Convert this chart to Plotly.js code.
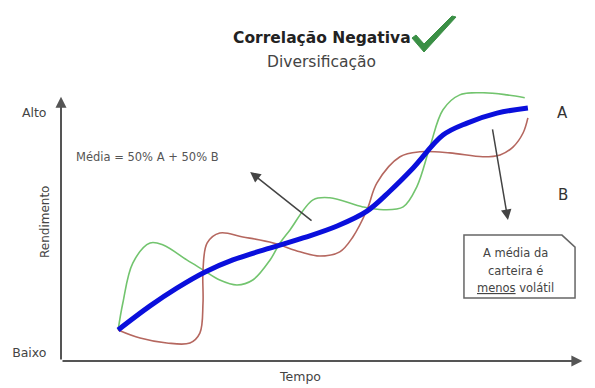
<!DOCTYPE html>
<html>
<head>
<meta charset="utf-8">
<script src="https://cdn.plot.ly/plotly-3.0.1.min.js"></script>
<style>html,body{margin:0;padding:0;background:#fff;}#chart{width:595px;height:388px;}</style>
</head>
<body>
<div id="chart"></div>
<script>
// Série A (verde)
const tempoA = [1.09, 1.18, 1.37, 1.70, 1.95, 2.40, 2.71, 3.03, 3.36, 3.66, 3.99, 4.18, 4.37, 4.81, 5.13, 5.76, 6.15, 6.53, 6.79, 7.04, 7.29, 7.61, 8.05, 8.51, 8.85];
const rendA  = [1.19, 2.22, 3.75, 4.52, 4.44, 3.87, 3.49, 3.10, 2.91, 3.10, 3.87, 4.52, 5.02, 6.17, 6.25, 5.90, 5.79, 5.90, 6.67, 8.20, 9.62, 10.19, 10.27, 10.19, 10.08];
// Série B (vermelha)
const tempoB = [1.09, 1.51, 2.02, 2.46, 2.65, 2.71, 2.71, 2.79, 3.03, 3.47, 4.05, 4.56, 4.94, 5.32, 5.57, 5.84, 6.03, 6.47, 6.85, 7.42, 8.05, 8.38, 8.63, 8.82, 8.91];
const rendB  = [1.19, 0.88, 0.69, 0.69, 1.07, 2.22, 3.49, 4.52, 4.90, 4.75, 4.52, 4.18, 4.02, 4.18, 4.75, 5.79, 6.82, 7.82, 8.01, 7.97, 7.82, 7.89, 8.20, 8.74, 9.31];
// Média = 50% A + 50% B (azul)
const tempoM = [1.09, 1.70, 2.21, 2.75, 3.28, 3.93, 4.62, 5.27, 5.84, 6.28, 6.72, 7.29, 7.75, 8.32, 8.91];
const rendM  = [1.19, 2.11, 2.79, 3.41, 3.87, 4.29, 4.71, 5.17, 5.74, 6.51, 7.39, 8.65, 9.11, 9.49, 9.69];
// Rótulos do eixo Y
const yTickVals = [0.31, 9.5];
const yTickText = ['Baixo', 'Alto'];

const FONT = 'DejaVu Sans, sans-serif';

const traces = [
  {x: tempoA, y: rendA, mode: 'lines', name: 'A', line: {color: '#72c46e', width: 1.6, shape: 'spline', smoothing: 1}},
  {x: tempoB, y: rendB, mode: 'lines', name: 'B', line: {color: '#b5675f', width: 1.6, shape: 'spline', smoothing: 1}},
  {x: tempoM, y: rendM, mode: 'lines', name: 'Média', line: {color: '#0a0fdc', width: 5, shape: 'spline', smoothing: 1}}
];

const pxX = v => (v - 61) / 524;     // paper coords helper (title area)
const pxY = v => (361 - v) / 269;
const dY = v => (361 - v) / 26.12;   // data y helper for text placement

function txt(xp, yp, text, size, color, extra) {
  return Object.assign({x: pxX(xp), y: pxY(yp), xref: 'paper', yref: 'paper', xanchor: 'center', yanchor: 'middle',
    text: text, showarrow: false, font: {size: size, color: color, family: FONT}}, extra || {});
}

const layout = {
  width: 595, height: 388,
  margin: {l: 61, r: 10, t: 92, b: 27},
  paper_bgcolor: '#fff', plot_bgcolor: '#fff',
  showlegend: false,
  font: {family: FONT, color: '#444'},
  xaxis: {range: [0, 10], showgrid: false, zeroline: false, showline: false, showticklabels: false, ticks: '', fixedrange: true},
  yaxis: {range: [0, 10.3], showgrid: false, zeroline: false, showline: false,
          tickvals: yTickVals, ticktext: yTickText, ticks: 'outside', ticklen: 11, tickcolor: 'rgba(0,0,0,0)',
          tickfont: {size: 12.5, color: '#444', family: FONT}, fixedrange: true},
  shapes: [
    {type: 'path', xref: 'x', yref: 'y',
     path: 'M7.69,2.41 L7.69,4.82 L9.56,4.82 L9.81,4.36 L9.81,2.41 Z',
     line: {color: '#666', width: 1.5}, fillcolor: '#fff'},
    {type: 'path', xref: 'paper', yref: 'paper',
     path: 'M' + pxX(412) + ',' + pxY(38) + ' L' + pxX(424) + ',' + pxY(52) + ' L' + pxX(456) + ',' + pxY(17) +
           ' L' + pxX(452) + ',' + pxY(16) + ' L' + pxX(424) + ',' + pxY(44) + ' L' + pxX(416) + ',' + pxY(35) + ' Z',
     line: {color: '#3a8f45', width: 1}, fillcolor: '#3a8f45'}
  ],
  annotations: [
    // eixos com setas
    {x: 9.95, y: 0, ax: 0, ay: 0, xref: 'x', yref: 'y', axref: 'x', ayref: 'y', text: '', showarrow: true,
     arrowhead: 2, arrowsize: 1.1, arrowwidth: 2, arrowcolor: '#555'},
    {x: 0, y: 10.12, ax: 0, ay: 0, xref: 'x', yref: 'y', axref: 'x', ayref: 'y', text: '', showarrow: true,
     arrowhead: 2, arrowsize: 1.1, arrowwidth: 2, arrowcolor: '#555'},
    // títulos dos eixos
    txt(300, 376, 'Tempo', 12.5, '#444'),
    txt(45, 222, 'Rendimento', 12, '#444', {textangle: -90}),
    // título
    txt(322, 38, '<b>Correlação Negativa</b>', 15.5, '#222'),
    txt(321, 62, 'Diversificação', 15.5, '#444'),
    // média
    {x: 1.66, y: dY(157), xref: 'x', yref: 'y', xanchor: 'center', yanchor: 'middle', text: 'Média = 50% A + 50% B', showarrow: false,
     font: {size: 11.5, color: '#555', family: FONT}},
    {x: 3.61, y: 7.24, ax: 4.81, ay: 5.33, xref: 'x', yref: 'y', axref: 'x', ayref: 'y', text: '', showarrow: true,
     arrowhead: 2, arrowsize: 1.4, arrowwidth: 1.5, arrowcolor: '#444'},
    {x: 8.53, y: 5.40, ax: 8.23, ay: 8.93, xref: 'x', yref: 'y', axref: 'x', ayref: 'y', text: '', showarrow: true,
     arrowhead: 2, arrowsize: 1.4, arrowwidth: 1.5, arrowcolor: '#444'},
    // A e B
    {x: 9.58, y: dY(113), xref: 'x', yref: 'y', xanchor: 'center', yanchor: 'middle', text: 'A', showarrow: false, font: {size: 15, color: '#333', family: FONT}},
    {x: 9.58, y: dY(195), xref: 'x', yref: 'y', xanchor: 'center', yanchor: 'middle', text: 'B', showarrow: false, font: {size: 15, color: '#333', family: FONT}},
    // caixa
    {x: 8.68, y: dY(253), xref: 'x', yref: 'y', xanchor: 'center', yanchor: 'middle', text: 'A média da', showarrow: false, font: {size: 11.5, color: '#444', family: FONT}},
    {x: 8.68, y: dY(271), xref: 'x', yref: 'y', xanchor: 'center', yanchor: 'middle', text: 'carteira é', showarrow: false, font: {size: 11.5, color: '#444', family: FONT}},
    {x: 8.68, y: dY(288), xref: 'x', yref: 'y', xanchor: 'center', yanchor: 'middle', text: '<u>menos</u> volátil', showarrow: false, font: {size: 11.5, color: '#444', family: FONT}}
  ]
};

Plotly.newPlot('chart', traces, layout, {displayModeBar: false, staticPlot: true});
</script>
</body>
</html>
